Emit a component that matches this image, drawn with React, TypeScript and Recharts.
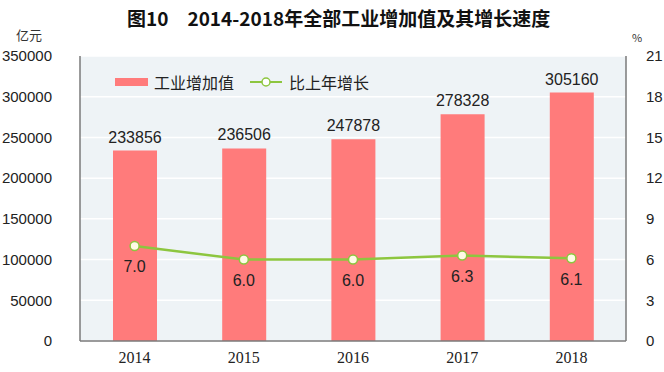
import React from 'react';
import { ComposedChart, Bar, Line, XAxis, YAxis, CartesianGrid, LabelList, Legend } from 'recharts';

const years = ['2014', '2015', '2016', '2017', '2018'];
const addedValue = [233856, 236506, 247878, 278328, 305160];
const growthRate = [7.0, 6.0, 6.0, 6.3, 6.1];
const leftTicks = [0, 50000, 100000, 150000, 200000, 250000, 300000, 350000];
const rightTicks = [0, 3, 6, 9, 12, 15, 18, 21];

const data = years.map((y, i) => ({ year: y, value: addedValue[i], rate: growthRate[i] }));

const NUM_FONT = '"Liberation Sans", Arial, sans-serif';
const SERIF_FONT = '"Liberation Serif", serif';
const CJK_FONT = '"Noto Sans CJK SC", sans-serif';
const BAR_COLOR = '#ff7b7b';
const LINE_COLOR = '#8dc63f';
const BORDER = '#7a7a7a';

const LegendContent = () => (
  <div style={{ display: 'flex', alignItems: 'center', fontFamily: CJK_FONT, fontSize: 16, color: '#222', lineHeight: '20px' }}>
    <svg width={34} height={12} style={{ marginRight: 5 }}>
      <rect x={0} y={2} width={33} height={8} fill={BAR_COLOR} />
    </svg>
    <span>工业增加值</span>
    <svg width={34} height={12} style={{ marginLeft: 16, marginRight: 5 }}>
      <line x1={0} y1={6} x2={32} y2={6} stroke={LINE_COLOR} strokeWidth={2} />
      <circle cx={16} cy={6} r={4} fill="#fff" stroke={LINE_COLOR} strokeWidth={1.5} />
    </svg>
    <span>比上年增长</span>
  </div>
);

export default function App() {
  return (
    <div style={{ position: 'relative', width: 664, height: 372, background: '#fff' }}>
      <style>{'body{margin:0}'}</style>
      <div style={{ position: 'absolute', left: 127, top: 8, lineHeight: '20px', whiteSpace: 'nowrap', fontFamily: CJK_FONT, fontWeight: 'bold', fontSize: 19, color: '#111' }}>
        图10　2014-2018年全部工业增加值及其增长速度
      </div>
      <div style={{ position: 'absolute', left: 16, top: 25, fontFamily: CJK_FONT, fontSize: 13, color: '#333' }}>亿元</div>
      <div style={{ position: 'absolute', left: 632, top: 29, fontFamily: CJK_FONT, fontSize: 11, color: '#333' }}>%</div>
      <ComposedChart width={664} height={372} data={data} margin={{ top: 56, right: 0, bottom: 0, left: 0 }} barCategoryGap="30%">
        <CartesianGrid vertical={false} stroke="#ffffff" strokeWidth={1.5} fill="#eef3f6" yAxisId="left" />
        <XAxis dataKey="year" height={31} tickLine={false} axisLine={{ stroke: BORDER, strokeWidth: 1.5 }} tick={{ fontFamily: SERIF_FONT, fontSize: 16, fill: '#222' }} tickMargin={5} />
        <XAxis xAxisId="top" dataKey="year" orientation="top" height={0} tick={false} tickLine={false} axisLine={{ stroke: BORDER, strokeWidth: 1.5 }} />
        <YAxis yAxisId="left" width={80} domain={[0, 350000]} ticks={leftTicks} interval={0} tickLine={false} axisLine={{ stroke: BORDER, strokeWidth: 1.5 }} tick={{ fontFamily: NUM_FONT, fontSize: 15, fill: '#222' }} tickMargin={22} />
        <YAxis yAxisId="right" orientation="right" width={38} domain={[0, 21]} ticks={rightTicks} interval={0} tickLine={false} axisLine={{ stroke: BORDER, strokeWidth: 1.5 }} tick={{ fontFamily: NUM_FONT, fontSize: 15, fill: '#222' }} tickMargin={14} />
        <Legend verticalAlign="middle" align="center" content={<LegendContent />} wrapperStyle={{ top: 72, left: 115, width: 320, height: 20 }} />
        <Bar yAxisId="left" dataKey="value" fill={BAR_COLOR} barSize={44} isAnimationActive={false}>
          <LabelList dataKey="value" position="top" offset={8} style={{ fontFamily: NUM_FONT, fontSize: 16, fill: '#222' }} />
        </Bar>
        <Line yAxisId="right" dataKey="rate" stroke={LINE_COLOR} strokeWidth={2.5} dot={{ r: 4.5, fill: '#fffbe6', stroke: LINE_COLOR, strokeWidth: 1.5 }} isAnimationActive={false}>
          <LabelList dataKey="rate" position="bottom" offset={15} formatter={(v: number) => v.toFixed(1)} style={{ fontFamily: NUM_FONT, fontSize: 16, fill: '#222' }} />
        </Line>
      </ComposedChart>
    </div>
  );
}
